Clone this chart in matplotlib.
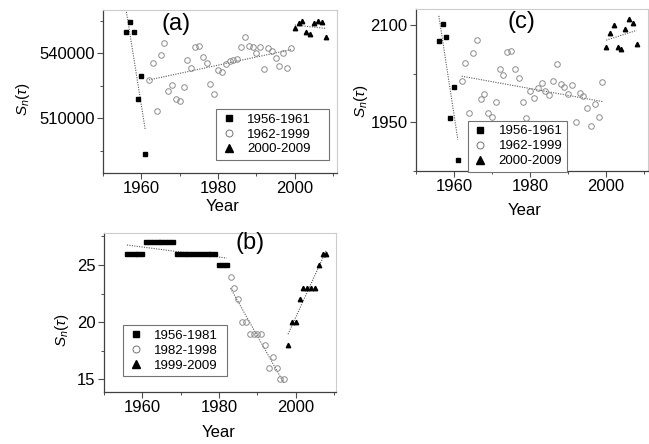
import numpy as np
import matplotlib
matplotlib.use("Agg")
import matplotlib.pyplot as plt
from matplotlib.ticker import MultipleLocator
from matplotlib.lines import Line2D

plt.rcParams['font.family'] = ['Liberation Sans', 'DejaVu Sans']
plt.rcParams['mathtext.fontset'] = 'custom'
plt.rcParams['mathtext.rm'] = 'Liberation Sans'
plt.rcParams['mathtext.it'] = 'Liberation Sans:italic'

# panel (a)
a_sq_years = [1956, 1957, 1958, 1959, 1960, 1961]
a_sq = [549700, 554500, 549700, 518800, 529400, 493600]
a_ci_years = list(range(1962, 2000))
a_ci = [527700, 535400, 513400, 539300, 544600, 522700, 525400, 519000, 518200, 524600,
        536800, 533300, 543100, 543600, 538200, 535400, 525900, 521100, 532300, 531600,
        535100, 536600, 536900, 537300, 543100, 547400, 543400, 542800, 540000, 543100,
        532700, 542300, 541300, 537700, 534300, 540300, 533100, 542300]
a_tr_years = [2000, 2001, 2002, 2003, 2004, 2005, 2006, 2007, 2008]
a_tr = [551800, 553900, 555100, 550000, 548900, 554200, 555100, 554500, 547400]
a_labels = ['1956-1961', '1962-1999', '2000-2009']

# panel (b)
b_sq_years = list(range(1956, 1983))
b_sq = [26, 26, 26, 26, 26, 27, 27, 27, 27, 27, 27, 27, 27,
        26, 26, 26, 26, 26, 26, 26, 26, 26, 26, 26, 25, 25, 25]
b_ci_years = list(range(1983, 1998))
b_ci = [24, 23, 22, 20, 20, 19, 19, 19, 19, 18, 16, 17, 16, 15, 15]
b_tr_years = list(range(1998, 2009))
b_tr = [18, 20, 20, 22, 23, 23, 23, 23, 25, 26, 26]
b_labels = ['1956-1981', '1982-1998', '1999-2009']

# panel (c)
c_sq_years = [1956, 1957, 1958, 1959, 1960, 1961]
c_sq = [2076, 2103, 2082, 1957, 2005, 1892]
c_ci_years = list(range(1962, 2000))
c_ci = [2014, 2042, 1964, 2058, 2078, 1987, 1994, 1965, 1959, 1982,
        2032, 2024, 2059, 2061, 2032, 2019, 1981, 1957, 1999, 1988,
        2004, 2011, 1998, 1992, 2014, 2040, 2010, 2005, 1994, 2008,
        1950, 1996, 1991, 1972, 1945, 1979, 1958, 2012]
c_tr_years = [2000, 2001, 2002, 2003, 2004, 2005, 2006, 2007, 2008]
c_tr = [2066, 2088, 2101, 2066, 2063, 2094, 2110, 2104, 2071]
c_labels = ['1956-1961', '1962-1999', '2000-2009']

fig = plt.figure(figsize=(6.49, 4.44), dpi=100)
ax_a = fig.add_axes([0.1587, 0.611, 0.3606, 0.3664])
ax_c = fig.add_axes([0.641, 0.6149, 0.3575, 0.3642])
ax_b = fig.add_axes([0.1602, 0.1171, 0.3575, 0.358])


def fit_line(ax, x, y):
    k, b = np.polyfit(x, y, 1)
    xx = np.array([min(x), max(x)])
    ax.plot(xx, k * xx + b, linestyle=(0, (1, 1.2)), color='0.35', lw=0.8, zorder=1)


def panel(ax, sq, ci, tr, labels, legbox):
    for x, y in (sq, ci, tr):
        fit_line(ax, x, y)
    ax.plot(sq[0], sq[1], 's', ms=2.4, color='k', zorder=3)
    ax.plot(ci[0], ci[1], 'o', ms=4.0, mfc='none', mec='0.55', mew=0.7, zorder=3)
    ax.plot(tr[0], tr[1], '^', ms=3.2, color='k', zorder=3)
    handles = [Line2D([], [], ls='none', marker='s', ms=4.5, color='k'),
               Line2D([], [], ls='none', marker='o', ms=5, mfc='none', mec='0.45', mew=0.7),
               Line2D([], [], ls='none', marker='^', ms=5.5, color='k')]
    leg = ax.legend(handles, labels, loc='lower left', bbox_to_anchor=legbox, mode='expand',
                    fontsize=9.5, fancybox=False, edgecolor='0.45', framealpha=1,
                    borderpad=0.35, labelspacing=0.2, handlelength=1.2,
                    handletextpad=0.8, borderaxespad=0)
    leg.get_frame().set_linewidth(0.8)
    leg.set_zorder(5)

    ax.set_xlim(1950, 2011)
    ax.xaxis.set_major_locator(MultipleLocator(20))
    ax.xaxis.set_minor_locator(MultipleLocator(10))
    for s in ['top', 'right']:
        ax.spines[s].set_color('0.8')
        ax.spines[s].set_linewidth(0.8)
    for s in ['left', 'bottom']:
        ax.spines[s].set_color('0.25')
        ax.spines[s].set_linewidth(0.9)
    ax.tick_params(which='major', direction='out', length=4, width=0.8, color='0.3',
                   labelsize=12, pad=2, top=False, right=False)
    ax.tick_params(which='minor', direction='out', length=2.5, width=0.7, color='0.3',
                   top=False, right=False)
    ax.set_xlabel('Year', fontsize=12)
    ax.set_ylabel(r'$S_n(\tau)$', fontsize=11)


panel(ax_a, (a_sq_years, a_sq), (a_ci_years, a_ci), (a_tr_years, a_tr), a_labels,
      (0.483, 0.078, 0.484, 0.33))
ax_a.set_ylim(485000, 560000)
ax_a.yaxis.set_major_locator(MultipleLocator(30000))
ax_a.yaxis.set_minor_locator(MultipleLocator(15000))
ax_a.text(0.312, 0.914, '(a)', transform=ax_a.transAxes, fontsize=17, ha='center', va='center')
ax_a.yaxis.set_label_coords(-0.305, 0.45)
ax_a.xaxis.set_label_coords(0.51, -0.16)

panel(ax_b, (b_sq_years, b_sq), (b_ci_years, b_ci), (b_tr_years, b_tr), b_labels,
      (0.083, 0.098, 0.446, 0.336))
ax_b.set_xlim(1950, 2010.5)
ax_b.set_ylim(13.9, 27.8)
ax_b.yaxis.set_major_locator(MultipleLocator(5))
ax_b.yaxis.set_minor_locator(MultipleLocator(2.5))
ax_b.text(0.629, 0.937, '(b)', transform=ax_b.transAxes, fontsize=17, ha='center', va='center')
ax_b.yaxis.set_label_coords(-0.14, 0.39)
ax_b.xaxis.set_label_coords(0.493, -0.205)

panel(ax_c, (c_sq_years, c_sq), (c_ci_years, c_ci), (c_tr_years, c_tr), c_labels,
      (0.223, -0.005, 0.427, 0.314))
ax_c.set_ylim(1875, 2125)
ax_c.yaxis.set_major_locator(MultipleLocator(150))
ax_c.yaxis.set_minor_locator(MultipleLocator(75))
ax_c.text(0.456, 0.923, '(c)', transform=ax_c.transAxes, fontsize=17, ha='center', va='center')
ax_c.yaxis.set_label_coords(-0.2, 0.433)
ax_c.xaxis.set_label_coords(0.47, -0.195)

fig.savefig('out.png', dpi=100)
